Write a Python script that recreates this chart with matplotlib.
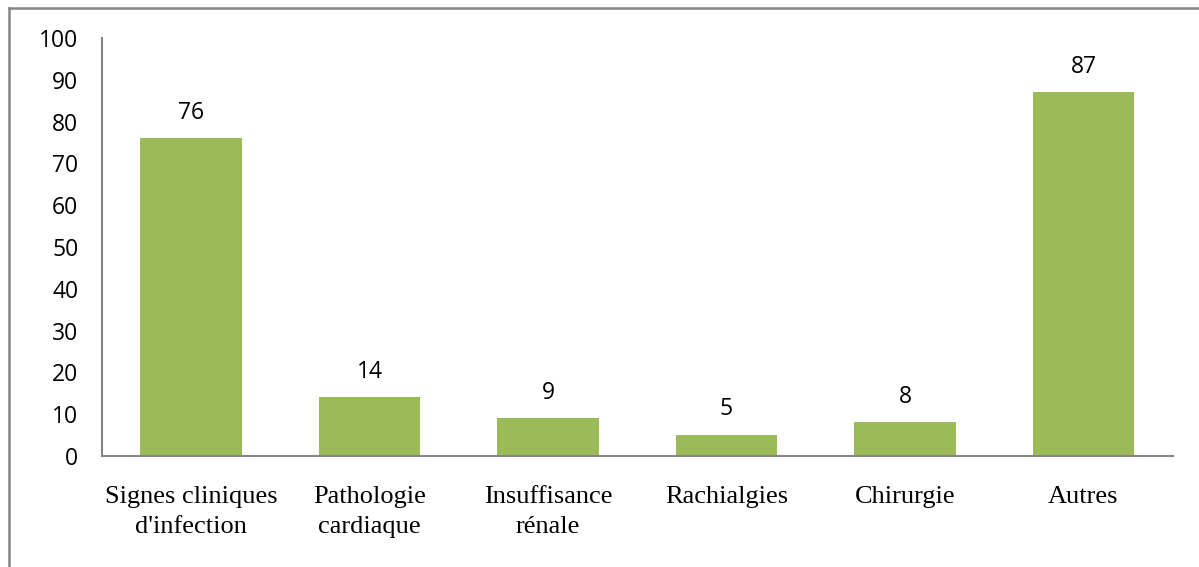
import matplotlib
matplotlib.use("Agg")
import matplotlib.pyplot as plt
from matplotlib.lines import Line2D

categories = ["Signes cliniques\nd'infection", "Pathologie\ncardiaque",
              "Insuffisance\nrénale", "Rachialgies", "Chirurgie", "Autres"]
values = [76, 14, 9, 5, 8, 87]
yticks = [0, 10, 20, 30, 40, 50, 60, 70, 80, 90, 100]

fig = plt.figure(figsize=(11.99, 5.67), dpi=100)
ax = fig.add_axes([0.085, 0.196, 0.893, 0.737])

x = range(len(values))
bars = ax.bar(x, values, width=0.57, color="#9BBB59", zorder=2)
for xi, v in zip(x, values):
    ax.text(xi, v + 6.1, str(v), ha="center", va="center",
            fontsize=16.5, family="Open Sans", color="black")

ax.set_xlim(-0.5, len(values) - 0.5)
ax.set_ylim(0, 100)
ax.set_yticks(yticks)
ax.set_yticklabels([str(t) for t in yticks], fontsize=16.5, family="Open Sans")
ax.set_xticks(list(x))
ax.set_xticklabels(categories, fontsize=19, family="Liberation Serif",
                   linespacing=1.45)
ax.tick_params(axis="y", length=0, pad=17)
ax.tick_params(axis="x", length=0, pad=22)
for s in ["top", "right"]:
    ax.spines[s].set_visible(False)
for s in ["left", "bottom"]:
    ax.spines[s].set_color("#868686")
    ax.spines[s].set_linewidth(1.5)

# cadre gris (haut + gauche)
fig.add_artist(Line2D([9 / 1199, 1], [1 - 8 / 567, 1 - 8 / 567],
                      transform=fig.transFigure, color="#868686", lw=1.8))
fig.add_artist(Line2D([9 / 1199, 9 / 1199], [0, 1 - 8 / 567],
                      transform=fig.transFigure, color="#868686", lw=1.8))

fig.savefig("out.png", dpi=100)
